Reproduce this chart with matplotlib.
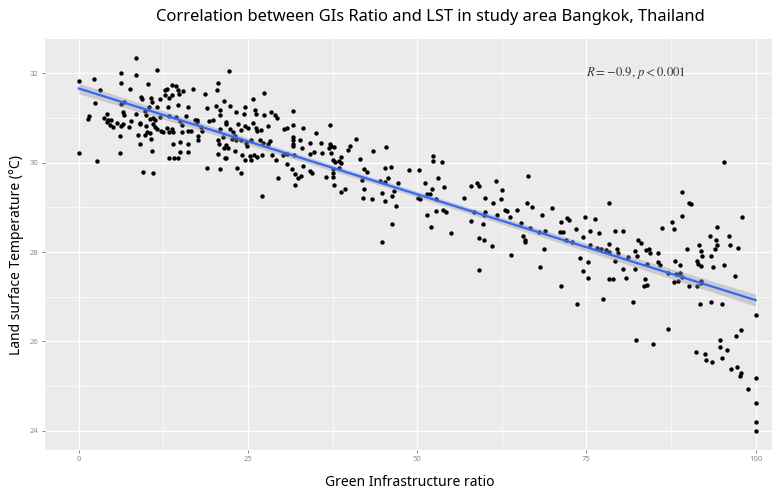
import numpy as np
import matplotlib
matplotlib.use('Agg')
import matplotlib.pyplot as plt

plt.rcParams['font.family'] = ['Noto Sans', 'DejaVu Sans']
plt.rcParams['mathtext.fontset'] = 'stix'

# (GI ratio, LST), grouped by area of the plot
part_a = [(8.4, 32.35), (11.6, 32.08), (6.3, 32.02), (2.3, 31.87), (0.0, 31.82), (8.4, 31.96), (6.2, 31.78),
          (10.2, 31.77), (3.1, 31.64), (7.6, 31.66), (13.8, 31.74), (14.3, 31.72), (13.0, 31.65), (12.7, 31.63),
          (14.6, 31.64), (13.7, 31.51), (14.8, 31.53), (15.4, 31.61), (9.2, 31.48), (9.4, 31.43), (10.6, 31.44),
          (12.0, 31.43), (10.8, 31.36), (12.7, 31.51), (13.4, 31.44), (2.4, 31.34), (6.2, 31.31), (6.7, 31.35),
          (10.4, 31.25), (11.6, 31.24), (13.2, 31.25), (14.6, 31.30), (16.2, 31.25), (1.5, 31.05), (1.4, 30.99),
          (3.7, 31.01), (4.1, 31.10), (4.3, 30.96), (4.2, 30.92), (4.8, 30.96), (6.6, 31.14), (6.7, 31.07),
          (8.5, 31.10), (9.8, 31.16), (10.0, 31.07), (10.5, 30.98), (11.0, 31.01), (11.2, 30.96), (12.0, 31.03),
          (13.4, 31.05), (14.4, 31.03), (15.9, 31.05), (14.9, 30.93), (4.6, 30.84), (5.1, 30.81), (5.6, 30.90),
          (6.3, 30.82), (6.6, 30.86), (7.4, 30.80), (7.7, 30.93), (9.0, 30.90), (9.1, 30.86), (10.0, 30.83),
          (10.9, 30.86), (11.2, 30.81), (11.6, 30.75), (12.2, 30.72), (12.5, 30.68), (13.0, 30.77), (13.7, 30.75),
          (13.9, 30.69), (15.3, 30.68), (16.2, 30.71), (15.2, 30.84), (6.1, 30.60), (8.8, 30.63), (9.8, 30.63),
          (10.1, 30.68), (10.5, 30.66), (10.7, 30.53), (13.4, 30.68), (14.9, 30.47), (13.9, 30.42), (16.1, 30.43),
          (0.0, 30.21), (2.7, 30.04), (6.1, 30.22), (9.1, 30.43), (10.8, 30.27), (14.9, 30.25), (13.4, 30.10),
          (14.0, 30.10), (14.6, 30.10), (16.2, 30.25), (9.5, 29.80), (11.0, 29.78)]

part_b = [(22.2, 32.06), (20.5, 31.79), (20.4, 31.63), (16.9, 31.66), (18.7, 31.53), (21.4, 31.38), (25.8, 31.42),
          (27.4, 31.56), (18.9, 31.23), (20.3, 31.27), (20.8, 31.18), (22.3, 31.27), (24.6, 31.25), (23.3, 31.13),
          (24.4, 31.09), (26.0, 31.18), (26.2, 31.10), (27.3, 31.08), (28.4, 31.13), (29.0, 31.08), (29.3, 31.01),
          (31.7, 31.16), (20.8, 31.07), (17.1, 30.95), (17.5, 30.95), (17.4, 30.91), (19.2, 30.93), (19.9, 30.95),
          (16.6, 30.72), (18.0, 30.81), (18.2, 30.71), (17.6, 30.60), (17.6, 30.51), (20.8, 30.75), (21.8, 30.92),
          (21.8, 30.87), (22.3, 30.75), (22.8, 30.69), (23.5, 30.86), (24.0, 30.73), (24.5, 30.82), (25.0, 30.77),
          (25.7, 30.90), (26.2, 30.77), (26.3, 30.72), (26.9, 30.73), (28.0, 30.82), (30.3, 30.75), (30.7, 30.77),
          (31.7, 30.84), (33.1, 30.77), (20.6, 30.51), (20.7, 30.43), (21.3, 30.58), (21.5, 30.34), (21.8, 30.40),
          (22.1, 30.34), (22.6, 30.53), (23.1, 30.60), (23.3, 30.51), (24.0, 30.51), (24.7, 30.45), (24.8, 30.37),
          (25.5, 30.51), (26.7, 30.51), (27.2, 30.45), (27.9, 30.43), (28.2, 30.49), (20.5, 30.19), (21.6, 30.10),
          (21.8, 30.11), (23.1, 30.27), (24.1, 30.17), (24.5, 30.07), (25.3, 30.15), (25.9, 30.17), (26.4, 30.12),
          (27.1, 30.17), (28.5, 30.18), (29.1, 30.07), (30.1, 30.17), (30.7, 30.19), (31.6, 30.58), (31.6, 30.51),
          (31.7, 30.43), (31.7, 30.37), (31.8, 30.17), (32.7, 30.51), (33.0, 30.34), (19.0, 29.89), (20.8, 29.85),
          (23.4, 29.89), (24.0, 29.78), (27.1, 29.25), (29.4, 29.65), (30.7, 29.97), (31.5, 29.85), (31.9, 29.75),
          (32.4, 29.65), (31.9, 29.51), (32.9, 29.70), (33.1, 29.93), (25.5, 30.06)]

part_c = [(37.1, 30.85), (35.1, 30.66), (34.1, 30.45), (35.8, 30.45), (37.1, 30.43), (37.2, 30.38), (37.7, 30.36),
          (37.0, 30.34), (34.8, 30.25), (34.2, 30.19), (36.0, 30.21), (37.2, 30.22), (40.9, 30.54), (40.1, 30.37),
          (39.8, 30.28), (43.4, 30.26), (45.4, 30.36), (38.8, 30.13), (38.5, 30.04), (38.7, 30.00), (37.6, 30.06),
          (37.8, 30.02), (37.6, 29.87), (38.5, 29.89), (41.6, 30.08), (34.1, 29.82), (34.4, 29.78), (37.5, 29.78),
          (36.5, 29.69), (37.5, 29.69), (42.2, 29.87), (42.6, 29.80), (45.3, 29.89), (46.2, 29.91), (48.8, 29.84),
          (50.2, 29.84), (41.9, 29.61), (44.5, 29.59), (45.3, 29.56), (45.7, 29.66), (47.1, 29.55), (37.7, 29.50),
          (38.8, 29.35), (39.4, 29.42), (42.1, 29.42), (42.0, 29.22), (43.3, 29.18), (44.8, 29.33), (45.3, 29.15),
          (46.3, 29.26), (46.6, 29.36), (46.8, 29.03), (50.1, 29.22), (46.3, 28.63), (44.8, 28.22)]

part_d = [(52.4, 30.15), (52.4, 30.04), (53.7, 30.01), (51.1, 29.55), (53.0, 29.65), (52.2, 29.42), (51.9, 29.31),
          (51.4, 29.31), (53.9, 29.46), (50.4, 29.20), (52.8, 29.18), (51.4, 28.83), (52.8, 28.92), (53.8, 28.94),
          (54.3, 28.89), (52.0, 28.57), (55.0, 28.43), (56.9, 29.22), (58.0, 29.48), (58.9, 29.55), (59.2, 29.48),
          (60.0, 29.22), (61.7, 29.60), (62.5, 29.40), (62.4, 29.20), (61.2, 29.10), (66.4, 29.71), (66.2, 29.10),
          (67.0, 29.01), (58.4, 28.89), (60.0, 28.90), (59.9, 28.83), (61.8, 28.84), (62.9, 28.94), (63.3, 28.92),
          (63.7, 28.79), (64.8, 28.95), (58.0, 28.69), (59.7, 28.63), (59.2, 28.31), (59.8, 28.27), (61.0, 28.14),
          (63.9, 27.93), (59.1, 27.61), (65.4, 28.66), (65.7, 28.36), (66.0, 28.28), (65.9, 28.23), (66.6, 28.55)]

part_e = [(68.5, 28.84), (69.9, 28.98), (68.9, 28.47), (68.0, 28.45), (68.8, 28.08), (68.1, 27.66), (71.3, 28.68),
          (71.1, 28.45), (71.5, 28.44), (72.1, 28.77), (72.4, 28.72), (72.0, 28.27), (72.9, 28.23), (73.4, 28.51),
          (74.8, 28.79), (76.3, 28.75), (75.5, 28.48), (76.9, 28.43), (74.5, 28.33), (78.4, 29.10), (79.3, 28.48),
          (80.4, 28.48), (75.6, 28.16), (76.6, 28.10), (77.1, 28.06), (77.9, 28.04), (78.3, 28.01), (78.3, 28.19),
          (79.5, 28.08), (79.7, 27.98), (74.1, 27.86), (75.3, 27.77), (74.5, 27.58), (75.3, 27.43), (79.3, 27.80),
          (80.4, 27.63), (81.1, 27.89), (80.9, 27.41), (78.3, 27.39), (79.0, 27.39), (71.2, 27.24), (73.6, 26.83),
          (77.4, 26.94), (81.9, 26.89), (82.6, 28.27), (83.0, 28.21), (82.2, 28.03), (82.5, 27.92), (83.8, 28.04),
          (84.2, 28.08), (84.0, 27.73), (82.2, 27.63), (83.6, 27.39), (83.5, 27.25), (84.0, 27.26), (82.4, 26.03)]

part_f = [(95.3, 30.02), (89.2, 29.34), (90.2, 29.11), (90.4, 29.07), (89.2, 28.81), (87.7, 28.68), (87.9, 28.52),
          (86.1, 28.54), (94.3, 28.57), (98.0, 28.78), (93.2, 28.36), (94.2, 28.27), (94.3, 28.16), (94.0, 28.06),
          (96.1, 28.37), (96.2, 28.16), (97.4, 28.10), (84.4, 27.97), (85.6, 27.97), (89.9, 28.07), (91.6, 28.17),
          (91.9, 28.02), (92.1, 27.91), (91.4, 27.81), (91.5, 27.73), (91.9, 27.69), (93.4, 27.91), (93.7, 27.67),
          (95.4, 27.72), (85.6, 27.78), (85.9, 27.71), (88.1, 27.80), (88.8, 27.71), (87.0, 27.54), (88.2, 27.52),
          (88.9, 27.54), (89.1, 27.45), (88.0, 27.34), (88.5, 27.35), (90.1, 27.25), (91.3, 27.24), (91.9, 27.35),
          (91.9, 27.30), (96.9, 27.46), (91.8, 26.83), (93.4, 26.88), (95.0, 26.84), (100.0, 26.59), (87.1, 26.28),
          (84.9, 25.95), (97.1, 26.13), (97.9, 26.25), (94.8, 26.03), (94.8, 25.88), (95.8, 25.81), (95.1, 25.64),
          (91.2, 25.77), (92.5, 25.72), (92.6, 25.58), (93.6, 25.54), (96.3, 25.38), (97.3, 25.43), (97.9, 25.30),
          (97.7, 25.22), (98.9, 24.93), (100.0, 25.19), (100.0, 24.63), (100.0, 24.20), (100.0, 23.99)]

x_ticks = [0, 25, 50, 75, 100]
y_ticks = [24, 26, 28, 30, 32]
title = 'Correlation between GIs Ratio and LST in study area Bangkok, Thailand'
stat_label = r'$R = -0.9,\, p < 0.001$'

pts = np.array(part_a + part_b + part_c + part_d + part_e + part_f)
x = pts[:, 0]
y = pts[:, 1]

# lm fit + 95% confidence band like geom_smooth(method = "lm")
n = len(x)
k, b = np.polyfit(x, y, 1)
resid = y - (k * x + b)
s = np.sqrt(np.sum(resid ** 2) / (n - 2))
xs = np.linspace(x.min(), x.max(), 80)
ys = k * xs + b
se = s * np.sqrt(1 / n + (xs - x.mean()) ** 2 / np.sum((x - x.mean()) ** 2))
t = 1.966

fig = plt.figure(figsize=(7.82, 4.94), dpi=100)
ax = fig.add_axes([0.0575, 0.089, 0.9295, 0.832])
ax.set_facecolor('#EBEBEB')

ax.set_xlim(-5, 102.4)
ax.set_ylim(23.57, 32.77)
ax.set_xticks(x_ticks)
ax.set_yticks(y_ticks)
ax.set_xticks([12.5, 37.5, 62.5, 87.5], minor=True)
ax.set_yticks([25, 27, 29, 31], minor=True)
ax.grid(which='major', color='white', linewidth=1.0)
ax.grid(which='minor', color='white', linewidth=0.5)
ax.set_axisbelow(True)
for sp in ax.spines.values():
    sp.set_visible(False)
ax.tick_params(which='major', length=2.5, width=0.5, color='#555555',
               labelsize=5.5, labelcolor='#8C8C8C', pad=2)
ax.tick_params(which='minor', length=0)

ax.scatter(x, y, s=10, color='black', linewidths=0, zorder=2)
ax.fill_between(xs, ys - t * se, ys + t * se, color='#999999', alpha=0.4, linewidth=0, zorder=3)
ax.plot(xs, ys, color='#3366FF', linewidth=1.6, zorder=4)

ax.text(75, 32.0, stat_label, fontsize=9.2, color='#333333', ha='left', va='center')

ax.set_xlabel('Green Infrastructure ratio', fontsize=10)
ax.set_ylabel('Land surface Temperature (°C)', fontsize=10)
ax.xaxis.set_label_coords(0.502, -0.080)
ax.yaxis.set_label_coords(-0.0385, 0.474)
ax.xaxis.label.set_va('center')
ax.yaxis.label.set_va('center')
fig.suptitle(title, fontsize=11.9, x=0.55, y=0.965, va='center')

fig.savefig('out.png', dpi=100)
